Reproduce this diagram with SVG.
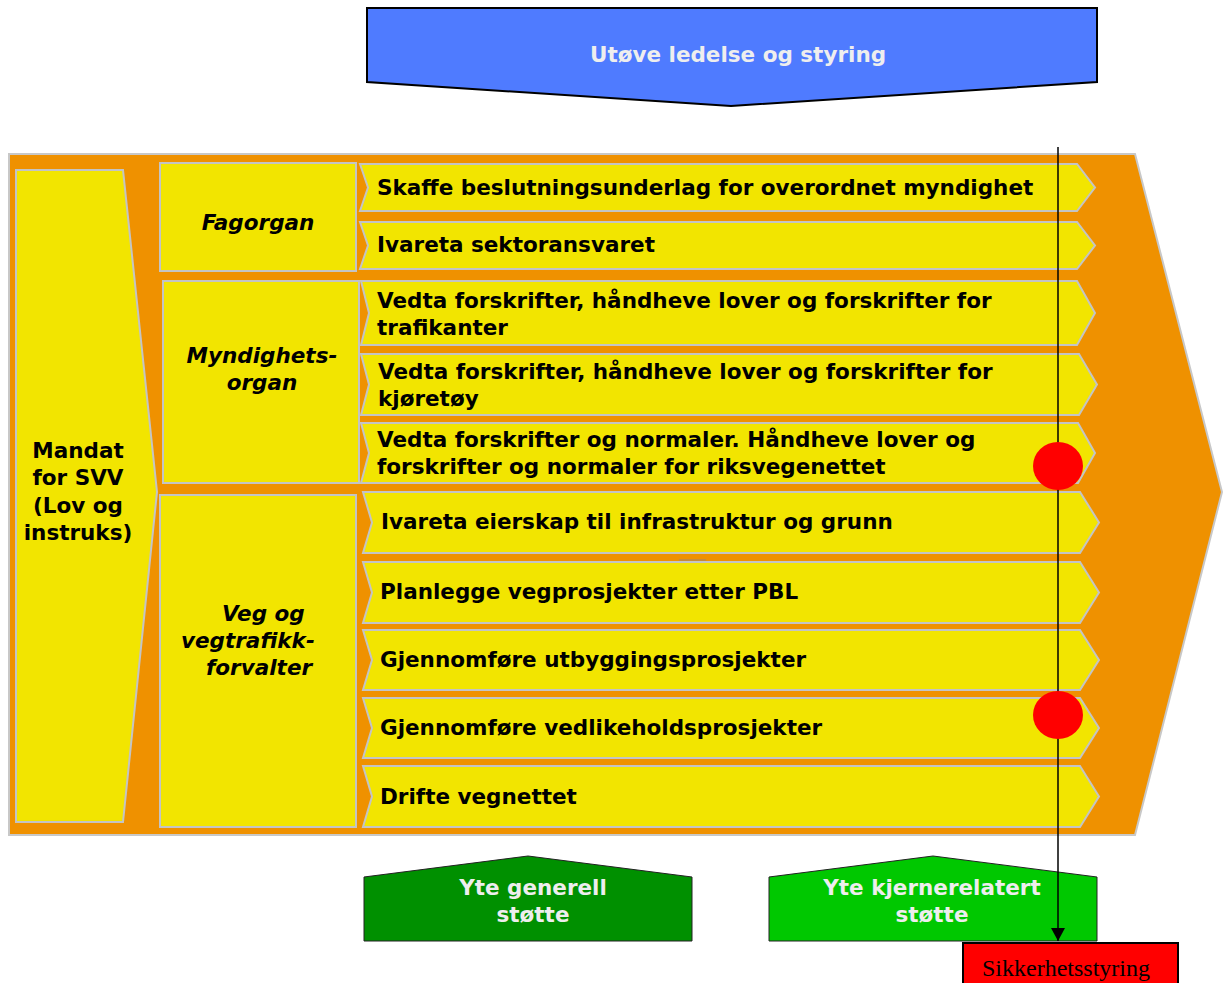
<svg xmlns="http://www.w3.org/2000/svg" width="1224" height="983" viewBox="0 0 1224 983">
  <style>
    .frame { fill: #EF9100; stroke: #C8C8C8; stroke-width: 2; }
    .box { fill: #F2E500; stroke: #C4C4C4; stroke-width: 2; }
    .lbl { font-family: "DejaVu Sans", Verdana, sans-serif; font-weight: bold; font-size: 21.5px; fill: #000; }
    .ital { font-family: "DejaVu Sans", Verdana, sans-serif; font-weight: bold; font-style: italic; font-size: 21.5px; fill: #000; }
    .light { font-family: "DejaVu Sans", Verdana, sans-serif; font-weight: bold; font-size: 21.5px; fill: #EEEEEE; text-anchor: middle; }
    .mid { text-anchor: middle; }
  </style>
  <defs>
    <marker id="arrow" markerWidth="13" markerHeight="14" refX="13" refY="7" orient="auto" markerUnits="userSpaceOnUse" viewBox="0 0 13 14">
      <path d="M0,0 L13,7 L0,14 Z" fill="#000"/>
    </marker>
  </defs>
  <rect width="1224" height="983" fill="#FFFFFF"/>

  <!-- management arrow on top -->
  <g id="ledelse">
    <polygon points="367,8 1097,8 1097,82 731,106 367,82" fill="#4F7BFF" stroke="#000" stroke-width="2"/>
    <text class="light" x="738" y="62">Utøve ledelse og styring</text>
  </g>

  <!-- main value chain frame -->
  <g id="verdikjede">
    <polygon class="frame" points="9,154 1135,154 1222,492 1135,835 9,835"/>
  </g>

  <g id="mandat">
    <polygon class="box" points="16,170 123,170 157,492 123,822 16,822"/>
    <text class="lbl mid" x="78" y="458">Mandat</text>
    <text class="lbl mid" x="78" y="485">for SVV</text>
    <text class="lbl mid" x="78" y="513">(Lov og</text>
    <text class="lbl mid" x="78" y="540">instruks)</text>
  </g>

  <g id="fagorgan">
    <rect class="box" x="160" y="163" width="196" height="108"/>
    <text class="ital mid" x="258" y="230">Fagorgan</text>
  </g>

  <g id="myndighetsorgan">
    <rect class="box" x="163" y="281" width="196" height="202"/>
    <text class="ital mid" x="262" y="363">Myndighets-</text>
    <text class="ital mid" x="262" y="390">organ</text>
  </g>

  <g id="forvalter">
    <rect class="box" x="160" y="495" width="196" height="332"/>
    <text class="ital" x="222" y="621">Veg og</text>
    <text class="ital" x="181" y="648">vegtrafikk-</text>
    <text class="ital" x="206" y="675">forvalter</text>
  </g>

  <!-- process chevrons -->
  <g id="p1">
    <polygon class="box" points="360,164 1077,164 1095,187.5 1077,211 360,211 368,187.5"/>
    <text class="lbl" x="377" y="195">Skaffe beslutningsunderlag for overordnet myndighet</text>
  </g>
  <g id="p2">
    <polygon class="box" points="360,222 1077,222 1095,245.5 1077,269 360,269 368,245.5"/>
    <text class="lbl" x="377" y="252">Ivareta sektoransvaret</text>
  </g>
  <g id="p3">
    <polygon class="box" points="361,281 1077,281 1095,313 1077,345 361,345 369,313"/>
    <text class="lbl" x="377" y="308">Vedta forskrifter, håndheve lover og forskrifter for</text>
    <text class="lbl" x="377" y="335">trafikanter</text>
  </g>
  <g id="p4">
    <polygon class="box" points="361,354 1079,354 1097,384.5 1079,415 361,415 369,384.5"/>
    <text class="lbl" x="378" y="379">Vedta forskrifter, håndheve lover og forskrifter for</text>
    <text class="lbl" x="378" y="406">kjøretøy</text>
  </g>
  <g id="p5">
    <polygon class="box" points="361,423 1078,423 1095,453 1078,483 361,483 369,453"/>
    <text class="lbl" x="377" y="447">Vedta forskrifter og normaler. Håndheve lover og</text>
    <text class="lbl" x="377" y="474">forskrifter og normaler for riksvegenettet</text>
  </g>
  <g id="p6">
    <polygon class="box" points="363,492 1080,492 1099,522.5 1080,553 363,553 372,522.5"/>
    <text class="lbl" x="381" y="529">Ivareta eierskap til infrastruktur og grunn</text>
  </g>
  <line x1="679" y1="560" x2="706" y2="560" stroke="#B98A4A" stroke-width="1.5"/>
  <g id="p7">
    <polygon class="box" points="363,562 1080,562 1099,592.5 1080,623 363,623 372,592.5"/>
    <text class="lbl" x="380" y="599">Planlegge vegprosjekter etter PBL</text>
  </g>
  <g id="p8">
    <polygon class="box" points="363,630 1080,630 1099,660 1080,690 363,690 372,660"/>
    <text class="lbl" x="380" y="667">Gjennomføre utbyggingsprosjekter</text>
  </g>
  <g id="p9">
    <polygon class="box" points="363,698 1080,698 1099,728 1080,758 363,758 372,728"/>
    <text class="lbl" x="380" y="735">Gjennomføre vedlikeholdsprosjekter</text>
  </g>
  <g id="p10">
    <polygon class="box" points="363,766 1080,766 1099,796.5 1080,827 363,827 372,796.5"/>
    <text class="lbl" x="380" y="804">Drifte vegnettet</text>
  </g>

  <!-- support functions -->
  <g id="generell-stotte">
    <polygon points="364,877 528,856 692,877 692,941 364,941" fill="#009000" stroke="#222" stroke-width="1"/>
    <text class="light" x="533" y="895">Yte generell</text>
    <text class="light" x="533" y="922">støtte</text>
  </g>
  <g id="kjerne-stotte">
    <polygon points="769,877 933,856 1097,877 1097,941 769,941" fill="#00C800" stroke="#222" stroke-width="1"/>
    <text class="light" x="932" y="895">Yte kjernerelatert</text>
    <text class="light" x="932" y="922">støtte</text>
  </g>

  <!-- safety management thread -->
  <g id="connectors">
    <line x1="1058" y1="147" x2="1058" y2="941" stroke="#000" stroke-width="1.5" marker-end="url(#arrow)"/>
  </g>
  <g id="risiko">
    <ellipse cx="1058" cy="466" rx="25" ry="24" fill="#FF0000"/>
    <ellipse cx="1058" cy="715" rx="25" ry="24" fill="#FF0000"/>
  </g>
  <g id="sikkerhetsstyring">
    <rect x="963" y="943" width="215" height="50" fill="#FF0000" stroke="#000" stroke-width="2"/>
    <text x="1066" y="976" font-family="'Liberation Serif', serif" font-size="24" text-anchor="middle" fill="#000">Sikkerhetsstyring</text>
  </g>
</svg>
